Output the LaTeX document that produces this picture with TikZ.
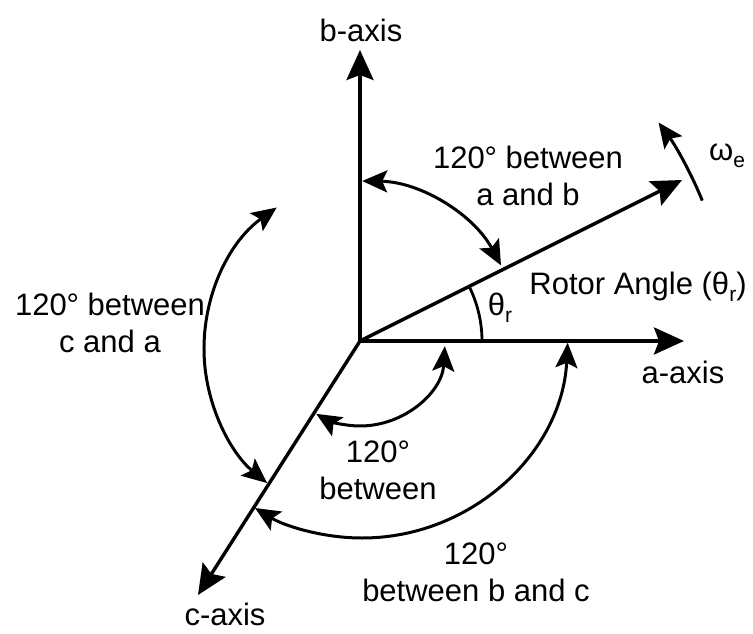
\documentclass[tikz,border=0pt]{standalone}
\usepackage{fontspec}
\setmainfont{Liberation Sans}
\usetikzlibrary{arrows.meta}
\newcommand{\subr}[1]{\raisebox{-0.4ex}{\fontsize{21}{21}\selectfont #1}}
\begin{document}
\begin{tikzpicture}[x=1pt,y=1pt,
  axisline/.style={line width=3.4pt,-{Stealth[length=30pt,width=27pt,inset=5pt]}},
  arcline/.style={line width=3pt,{Stealth[length=25pt,width=22pt,inset=5pt]}-{Stealth[length=25pt,width=22pt,inset=5pt]}},
  oneline/.style={line width=3pt,-{Stealth[length=25pt,width=22pt,inset=5pt]}},
  thinarc/.style={line width=2.8pt},
  lbl/.style={font=\fontsize{31}{37}\selectfont, inner sep=0pt, align=center}]
\useasboundingbox (0,0) rectangle (753,633);
\coordinate (O) at (360,292);
\coordinate (btip) at (360,583);
\coordinate (atip) at (684,292);
\coordinate (rtip) at (682,453);
\coordinate (ctip) at (198,38);
% axes
\draw[axisline] (O) -- (btip);
\draw[axisline] (O) -- (atip);
\draw[axisline] (O) -- (rtip);
\draw[axisline] (O) -- (ctip);
% labels
\node[lbl] (blbl) at (361,603) {b-axis};
\node[lbl] (albl) at (683,261) {a-axis};
\node[lbl] (clbl) at (225,19) {c-axis};
\node[lbl] (rotor) at (638,346) {Rotor Angle (θ\subr{r})};
\node[lbl] (thr) at (500,325) {θ\subr{r}};
\node[lbl] (we) at (727,477) {ω\subr{e}};
\node[lbl] (ab) at (528,457) {120° between\\a and b};
\node[lbl] (ca) at (110,310) {120° between\\c and a};
\node[lbl] (bt) at (378,163) {120°\\between};
\node[lbl] (bc) at (476,61) {120°\\between b and c};
% angle theta_r
\draw[thinarc] ([shift={(O)}]0:122) arc[start angle=0,end angle=26.6,radius=122];
% omega arc
\draw[oneline] ([shift={(O)}]22.3:370) arc[start angle=22.3,end angle=36.2,radius=370];
% 120 a-b
\draw[arcline] ([shift={(O)}]89.2:160) arc[start angle=89.2,end angle=28.2,radius=160];
% 120 c-a
\coordinate (Cca) at (378,284);
\draw[arcline] ([shift={(Cca)}]125.6:174) arc[start angle=125.6,end angle=230.4,radius=174];
% 120 b-c
\coordinate (Cbc) at (362,301);
\draw[arcline] ([shift={(Cbc)}]357:206) arc[start angle=357,end angle=238.7,radius=206];
% small 120
\draw[arcline] ([shift={(O)}]356.5:85) arc[start angle=356.5,end angle=239,radius=85];
\end{tikzpicture}
\end{document}
